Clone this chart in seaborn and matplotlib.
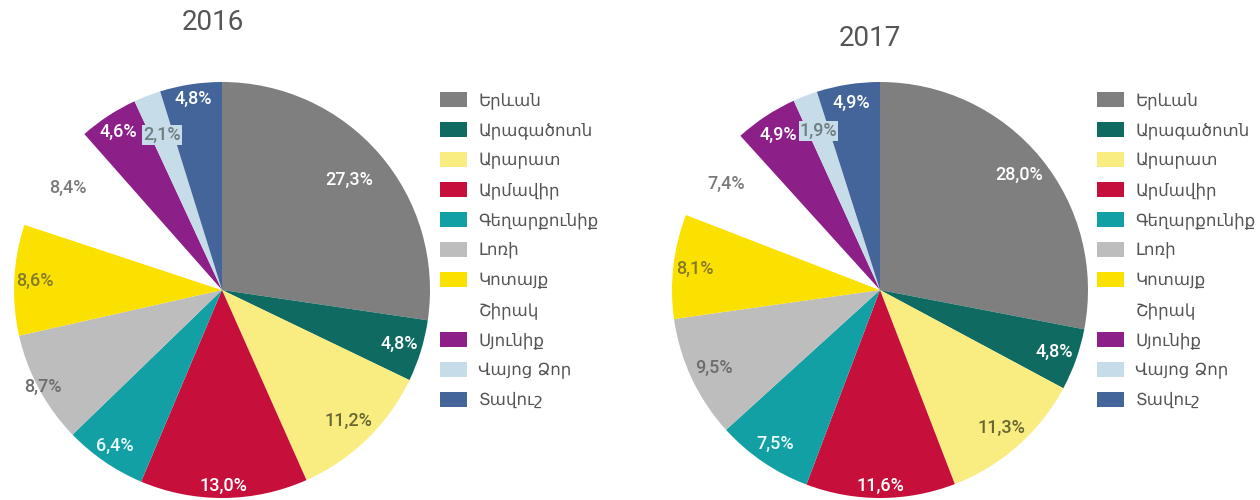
import numpy as np
import matplotlib
matplotlib.use("Agg")
import matplotlib.pyplot as plt
import seaborn as sns

sns.set_theme(style="white")
plt.rcParams["font.family"] = ["DejaVu Sans"]

# Regions of Armenia
regions = ["Երևան", "Արագածոտն", "Արարատ", "Արմավիր", "Գեղարքունիք", "Լոռի",
           "Կոտայք", "Շիրակ", "Սյունիք", "Վայոց Ձոր", "Տավուշ"]

# Shares by region, percent
shares_2016 = [27.3, 4.8, 11.2, 13.0, 6.4, 8.7, 8.6, 8.4, 4.6, 2.1, 4.8]
shares_2017 = [28.0, 4.8, 11.3, 11.6, 7.5, 9.5, 8.1, 7.4, 4.9, 1.9, 4.9]

years = ["2016", "2017"]

# Styling
palette = ["#7f7f7f", "#0f6b61", "#f9ec80", "#c70f3c", "#12a0a4", "#bdbdbd",
           "#fbe100", "#ffffff", "#8c2088", "#c6dce8", "#44659a"]
text_colors = ["white", "white", "#6a6632", "white", "#eafafa", "#6d6d6d",
               "#857a28", "#7a7a7a", "white", "#6f7d80", "white"]
label_radius = {
    "2016": [0.81, 0.89, 0.875, 0.94, 0.91, 0.98, 0.90, 0.89, 0.91, 0.80, 0.93],
    "2017": [0.87, 0.89, 0.885, 0.94, 0.895, 0.88, 0.895, 0.90, 0.89, 0.82, 0.91],
}

fig = plt.figure(figsize=(12.6, 5), dpi=100)
fig.patch.set_facecolor("white")

W, H = 1260, 500
R = 208
pie_centers = {"2016": (222, 290), "2017": (880, 290)}
title_pos = {"2016": (213, 22), "2017": (870, 38)}
legend_pos = {"2016": (440, 91), "2017": (1097, 91)}


def fmt(v):
    return f"{v:.1f}".replace(".", ",") + "%"


for year, shares in zip(years, [shares_2016, shares_2017]):
    cx, cy = pie_centers[year]
    ax = fig.add_axes([(cx - R) / W, (H - cy - R) / H, 2 * R / W, 2 * R / H])
    wedges, _ = ax.pie(shares, colors=palette, startangle=90, counterclock=False,
                       wedgeprops=dict(linewidth=0, edgecolor="none"))
    ax.set_xlim(-1, 1)
    ax.set_ylim(-1, 1)
    ax.axis("off")

    total = sum(shares)
    cum = np.cumsum([0] + shares[:-1])
    for i, v in enumerate(shares):
        theta = 2 * np.pi * (cum[i] + v / 2) / total
        r = label_radius[year][i]
        x, y = r * np.sin(theta), r * np.cos(theta)
        bbox = None
        if regions[i] == "Վայոց Ձոր":
            bbox = dict(boxstyle="square,pad=0.05", facecolor=palette[i],
                        edgecolor="none")
        ax.text(x, y, fmt(v), ha="center", va="center", fontsize=13,
                fontweight="medium", family=["Roboto", "DejaVu Sans"],
                color=text_colors[i], bbox=bbox)

    tx, ty = title_pos[year]
    fig.text(tx / W, 1 - ty / H, year, ha="center", va="center", fontsize=20,
             family=["Roboto", "DejaVu Sans"], color="#555555")

    lx, ly = legend_pos[year]
    ax.legend(wedges, regions, loc="upper left",
              bbox_to_anchor=(lx / W, 1 - ly / H), bbox_transform=fig.transFigure,
              frameon=False, fontsize=12, labelcolor="#555555",
              handlelength=1.6, handleheight=1.05, handletextpad=0.7,
              labelspacing=0.72, borderpad=0, borderaxespad=0)

fig.savefig("out.png", dpi=100, facecolor="white")
